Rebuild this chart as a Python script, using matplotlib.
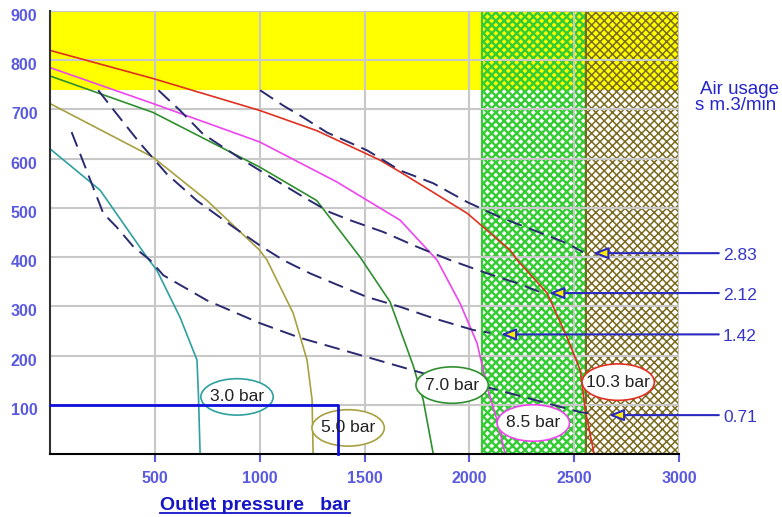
import matplotlib
matplotlib.use('Agg')
import matplotlib.pyplot as plt
from matplotlib.patches import Ellipse
from matplotlib.lines import Line2D
from matplotlib.transforms import IdentityTransform, ScaledTranslation

plt.rcParams['font.family'] = ['Liberation Sans', 'DejaVu Sans']
plt.rcParams['hatch.linewidth'] = 1.2

# outlet-pressure curves (one per supply pressure)
bar_labels = ['3.0 bar', '5.0 bar', '7.0 bar', '8.5 bar', '10.3 bar']
bar_colors = ['#2fa0a0', '#a8a040', '#2f8f2f', '#ee44ee', '#e03020']
bar_x = [
    [0, 239, 462, 510, 620, 701, 708, 716],
    [0, 491, 749, 1000, 1035, 1160, 1226, 1250, 1255],
    [0, 491, 1000, 1272, 1479, 1622, 1732, 1780, 1828],
    [0, 491, 1000, 1367, 1670, 1846, 1956, 2037, 2085, 2132, 2171],
    [0, 490, 1000, 1272, 1574, 1670, 1990, 2195, 2228, 2371, 2466, 2529, 2553, 2595],
]
bar_y = [
    [620, 536, 400, 373, 278, 191, 120, 0],
    [712, 603, 515, 414, 394, 286, 191, 110, 0],
    [768, 694, 583, 515, 400, 309, 180, 110, 0],
    [785, 712, 634, 553, 475, 394, 306, 225, 136, 69, 0],
    [820, 763, 698, 657, 597, 573, 489, 414, 394, 327, 237, 170, 89, 0],
]
# ellipse label centres
bar_lab_x = [892, 1422, 1918, 2305, 2710]
bar_lab_y = [116, 53, 140, 63, 146]

# air usage lines (dashed)
air_labels = ['2.83', '2.12', '1.42', '0.71']
air_x = [
    [1002, 1112, 1207, 1322, 1512, 1670, 1828, 1989, 2147, 2305, 2466, 2543],
    [517, 620, 730, 827, 906, 1050, 1209, 1336, 1431, 1590, 1750, 1908, 2085, 2228, 2338],
    [230, 318, 430, 557, 700, 875, 1000, 1112, 1240, 1352, 1512, 1670, 1828, 2018, 2100],
    [103, 159, 254, 318, 398, 477, 541, 749, 1000, 1193, 1512, 1780, 2100, 2529, 2600],
]
air_y = [
    [739, 708, 684, 653, 617, 576, 550, 512, 481, 455, 428, 410],
    [739, 698, 650, 623, 601, 563, 522, 491, 475, 451, 421, 394, 367, 347, 329],
    [739, 691, 631, 569, 515, 461, 424, 394, 367, 347, 319, 299, 276, 252, 246],
    [654, 593, 489, 461, 421, 394, 363, 312, 266, 236, 197, 164, 134, 85, 81],
]
air_tip_x = [2590, 2380, 2150, 2665]
air_tip_y = [408, 327, 243, 79]

fig = plt.figure(figsize=(7.82, 5.17), dpi=100)
ax = fig.add_axes([50 / 782, 63 / 517, 629 / 782, 443 / 517])

# background zones
ax.axhspan(740, 900, color='#ffff00', lw=0, zorder=0.2)
green_zone = ax.axvspan(2060, 2555, fc='none', ec='#33cc33', hatch='xxxx', lw=1.5, zorder=0.3)
olive_zone = ax.axvspan(2555, 3000, fc='none', ec='#7a6a20', hatch='xxxx', lw=1.5, zorder=0.3)
if hasattr(green_zone, 'set_hatch_linewidth'):
    green_zone.set_hatch_linewidth(1.7)
    olive_zone.set_hatch_linewidth(1.1)

for xs, ys, c in zip(bar_x, bar_y, bar_colors):
    ax.plot(xs, ys, color=c, lw=1.2, zorder=2)

for xs, ys in zip(air_x, air_y):
    ax.plot(xs, ys, color='#2a2a70', lw=1.4, ls=(0, (8, 4)), zorder=2)

for lab, tx, ty in zip(air_labels, air_tip_x, air_tip_y):
    ax.annotate('', xy=(tx, ty), xytext=(3190, ty), annotation_clip=False,
                arrowprops=dict(arrowstyle='-|>,head_length=0.9,head_width=0.35',
                                fc='#ffee00', ec='#2a2ac0', lw=1.5, shrinkA=0, shrinkB=0))
    ax.text(3210, ty - 4, lab, color='#3535cc', fontsize=12.5, va='center', ha='left',
            clip_on=False)

for lab, c, lx, ly in zip(bar_labels, bar_colors, bar_lab_x, bar_lab_y):
    ax.add_patch(Ellipse((lx, ly), 345, 74, fc='white', ec=c, lw=1.2, zorder=3))
    ax.text(lx, ly, lab, fontsize=12.5, color='#222222', ha='center', va='center', zorder=4)

# blue marker box
ax.plot([0, 1372, 1372], [100, 100, 0], color='#1010dd', lw=2, zorder=3, clip_on=False)

ax.set_xlim(0, 3000)
ax.set_ylim(0, 900)
ax.set_xticks([500, 1000, 1500, 2000, 2500, 3000])
ax.set_yticks([100, 200, 300, 400, 500, 600, 700, 800, 900])
ax.grid(True, color='#c8c8c8', lw=1.5)
ax.set_axisbelow(True)
ax.tick_params(axis='x', colors='#5a5ae0', length=6, width=1.5, labelsize=11.5, pad=6)
ax.tick_params(axis='y', colors='#5a5ae0', length=0, labelsize=11.5, pad=9)
shift = ScaledTranslation(0, -4 / 100, fig.dpi_scale_trans)
for lbl in ax.get_xticklabels():
    lbl.set_fontweight('bold')
for lbl in ax.get_yticklabels():
    lbl.set_fontweight('bold')
    lbl.set_transform(lbl.get_transform() + shift)
ax.spines['top'].set_visible(False)
ax.spines['right'].set_visible(False)
ax.spines['left'].set_color('#303030')
ax.spines['bottom'].set_color('#000000')
ax.spines['left'].set_linewidth(1.5)
ax.spines['bottom'].set_linewidth(1.5)

fig.text(700 / 782, 1 - 89 / 517, 'Air usage', ha='left', va='center',
         fontsize=13.5, color='#2525cc')
fig.text(695 / 782, 1 - 105 / 517, 's m.3/min', ha='left', va='center',
         fontsize=13.5, color='#2525cc')

xl = fig.text(255 / 782, 1 - 505 / 517, 'Outlet pressure   bar', ha='center', va='center',
              fontsize=14, fontweight='bold', color='#1515c8')
fig.canvas.draw()
bb = xl.get_window_extent()
fig.add_artist(Line2D([bb.x0, bb.x1], [bb.y0 + 1, bb.y0 + 1], transform=IdentityTransform(),
                      color='#1515c8', lw=1.3))

fig.savefig('out.png', dpi=100)
